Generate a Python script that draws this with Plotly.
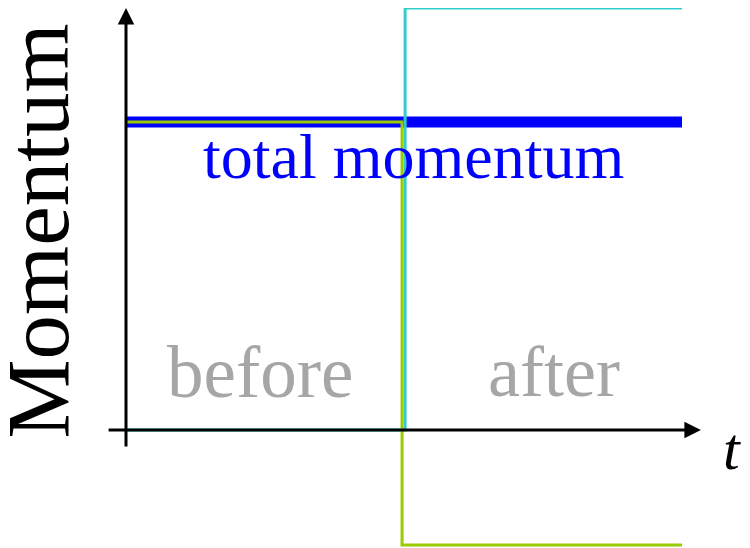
import plotly.graph_objects as go

# Data (time in units of collision time, momentum in arbitrary units)
t_total = [0.0, 2.0]
p_total = [0.73, 0.73]

t_obj1 = [0.0, 0.993, 2.0]          # yellow-green object
p_obj1 = [0.73, -0.2725, -0.2725]

t_obj2 = [0.0, 1.004, 2.0]          # cyan object
p_obj2 = [0.0, 1.0, 1.0]

label_total = "total momentum"
label_before = "before"
label_after = "after"
y_title = "Momentum"
x_title = "<i>t</i>"

BLUE = "#0000FF"
GREEN = "#99CC00"
CYAN = "#33CCCC"
GREY = "#A6A6A6"
SERIF = "Liberation Serif, Times New Roman, serif"

fig = go.Figure()

fig.add_trace(go.Scatter(x=t_total, y=p_total, mode="lines",
                         line=dict(color=BLUE, width=11), hoverinfo="skip"))
fig.add_trace(go.Scatter(x=t_obj1, y=p_obj1, mode="lines", line_shape="hv",
                         line=dict(color=GREEN, width=3), hoverinfo="skip"))
fig.add_trace(go.Scatter(x=t_obj2, y=p_obj2, mode="lines", line_shape="hv",
                         line=dict(color=CYAN, width=3), hoverinfo="skip"))

# axes with arrows
fig.add_annotation(x=2.068, y=0, ax=-0.068, ay=0, xref="x", yref="y",
                   axref="x", ayref="y", text="", showarrow=True,
                   arrowhead=2, arrowsize=1.1, arrowwidth=3, arrowcolor="black")
fig.add_annotation(x=0, y=1.0, ax=0, ay=-0.0427, xref="x", yref="y",
                   axref="x", ayref="y", text="", showarrow=True,
                   arrowhead=2, arrowsize=1.1, arrowwidth=3, arrowcolor="black")

# texts
fig.add_annotation(x=1.034, y=0.649, text=label_total, showarrow=False,
                   font=dict(family=SERIF, size=64, color=BLUE))
fig.add_annotation(x=0.482, y=0.137, text=label_before, showarrow=False,
                   font=dict(family=SERIF, size=73, color=GREY))
fig.add_annotation(x=1.541, y=0.137, text=label_after, showarrow=False,
                   font=dict(family=SERIF, size=72, color=GREY))
fig.add_annotation(x=2.18, y=-0.045, text=x_title, showarrow=False,
                   font=dict(family=SERIF, size=60, color="black"))
fig.add_annotation(x=-0.318, y=0.4716, text=y_title, showarrow=False,
                   textangle=-90,
                   font=dict(family=SERIF, size=89, color="black"))

fig.update_layout(
    width=750, height=548, autosize=False,
    margin=dict(l=0, r=0, t=0, b=0),
    paper_bgcolor="white", plot_bgcolor="white",
    showlegend=False,
    xaxis=dict(range=[-0.42446, 2.27338], visible=False, fixedrange=True),
    yaxis=dict(range=[-0.29858, 1.0], visible=False, fixedrange=True),
)

fig.write_html("out.html")
